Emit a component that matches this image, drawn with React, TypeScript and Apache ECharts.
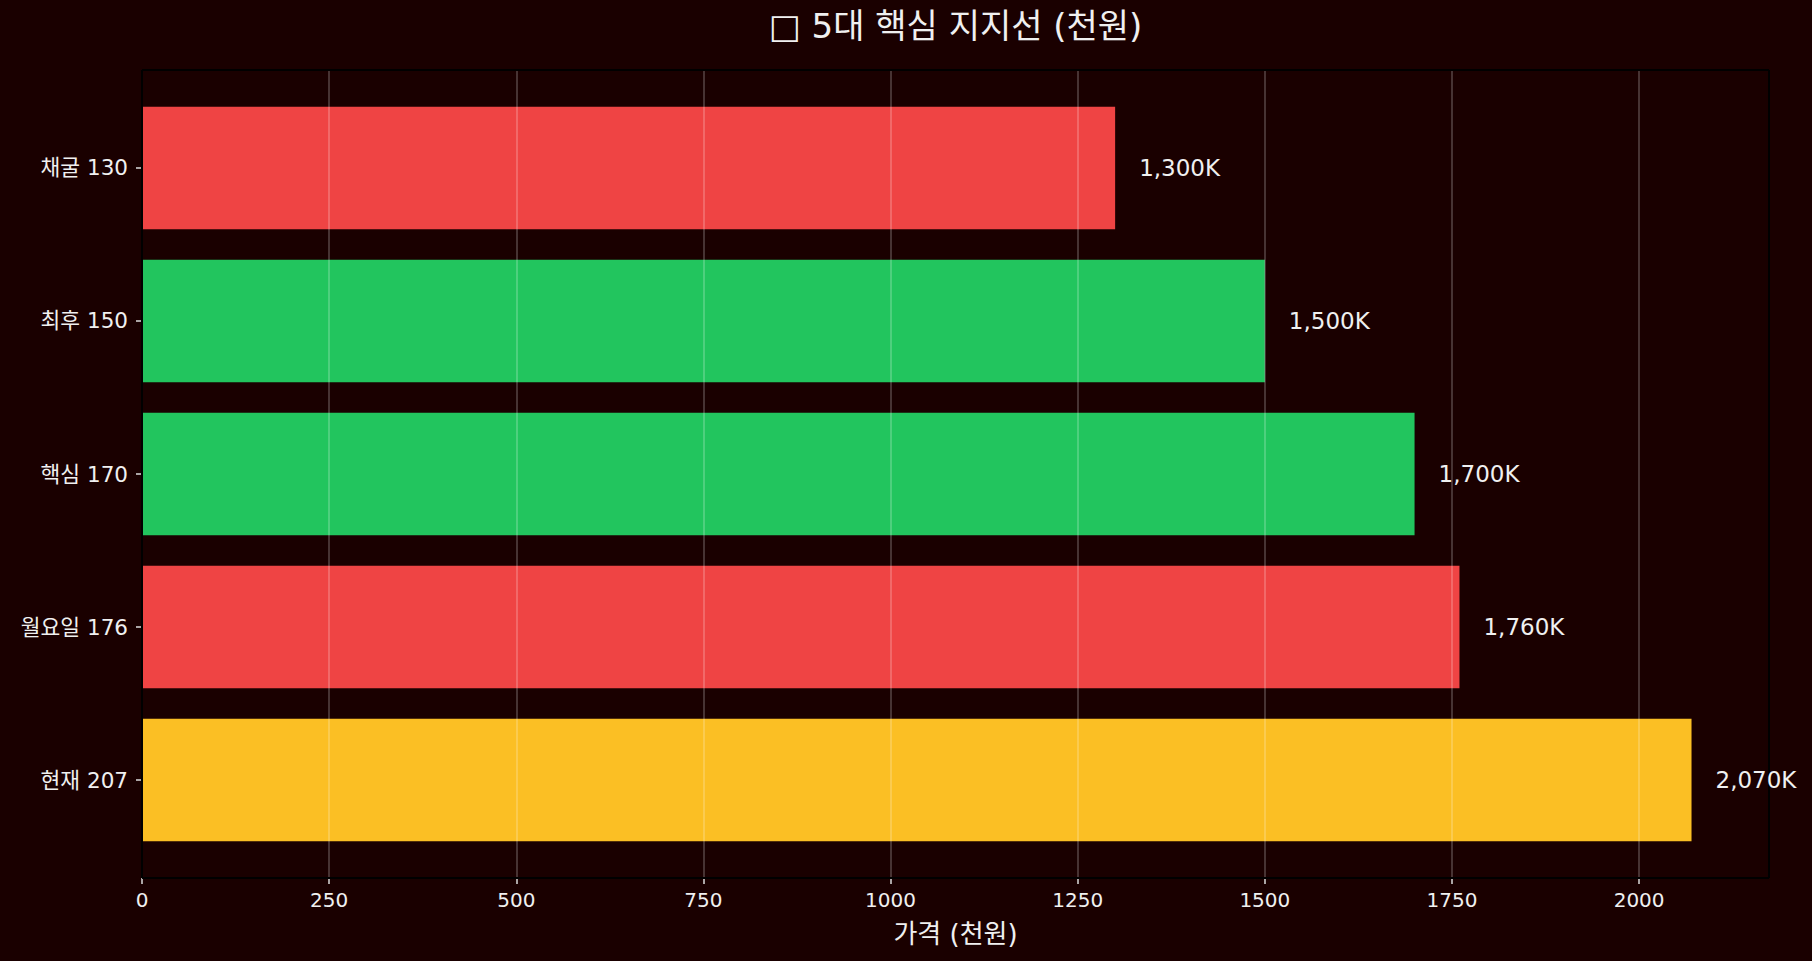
import React, { useEffect, useRef } from "react";
import * as echarts from "echarts";

const categories = ["현재 207", "월요일 176", "핵심 170", "최후 150", "채굴 130"];
const values = [2070, 1760, 1700, 1500, 1300];
const barColors = ["#fbbf24", "#ef4444", "#22c55e", "#22c55e", "#ef4444"];
const xTicks = [0, 250, 500, 750, 1000, 1250, 1500, 1750, 2000];
const xMax = 2173.5;
const titleText = "□ 5대 핵심 지지선 (천원)";
const xName = "가격 (천원)";

const FONT = "'DejaVu Sans', 'Noto Sans CJK KR', sans-serif";
const BG = "#1a0000";
const TXT = "#f0f0f0";

export default function App() {
  const ref = useRef<HTMLDivElement>(null);
  useEffect(() => {
    if (!ref.current) return;
    const chart = echarts.init(ref.current, undefined, { renderer: "svg" });
    const L = 142, R = 43, T = 70, B = 83;
    const W = 1812 - L - R;
    const plotH = 961 - T - B;
    const unitsH = 5.28; // -0.64..4.64
    const bandPx = plotH / unitsH;
    const innerTop = T + 0.14 * bandPx;
    const innerBottom = B + 0.14 * bandPx;
    const spine = { stroke: "#000000", lineWidth: 2 };
    chart.setOption({
      animation: false,
      backgroundColor: BG,
      textStyle: { fontFamily: FONT },
      graphic: [
        {
          type: "text",
          x: L + W / 2,
          y: 26,
          z: 100,
          style: {
            text: titleText,
            fill: TXT,
            font: `34px ${FONT}`,
            textAlign: "center",
            textVerticalAlign: "middle",
          },
        },
        { type: "line", z: 100, shape: { x1: L, y1: T, x2: L + W, y2: T }, style: spine },
        { type: "line", z: 100, shape: { x1: L, y1: T + plotH, x2: L + W, y2: T + plotH }, style: spine },
        { type: "line", z: 100, shape: { x1: L, y1: T, x2: L, y2: T + plotH }, style: spine },
        { type: "line", z: 0, shape: { x1: L + W, y1: T, x2: L + W, y2: T + plotH }, style: spine },
      ],
      grid: [
        { left: L, right: R, top: T, bottom: B, containLabel: false },
        { left: L, right: R, top: innerTop, bottom: innerBottom, containLabel: false },
      ],
      xAxis: [
        {
          type: "value",
          gridIndex: 0,
          min: 0,
          max: xMax,
          interval: 250,
          z: 5,
          name: xName,
          nameLocation: "middle",
          nameGap: 43,
          nameTextStyle: { color: TXT, fontSize: 26, fontFamily: FONT },
          axisLine: { show: false },
          axisTick: {
            show: true,
            customValues: xTicks,
            length: 6,
            lineStyle: { color: "#dddddd", width: 1.5 },
          },
          axisLabel: {
            customValues: xTicks,
            color: TXT,
            fontSize: 20,
            fontFamily: FONT,
            margin: 12,
            formatter: (v: number) => String(v),
          },
          splitLine: {
            show: true,
            lineStyle: { color: "rgba(255,255,255,0.25)", width: 1.6 },
          },
        },
        {
          type: "value",
          gridIndex: 1,
          min: 0,
          max: xMax,
          show: false,
        },
      ],
      yAxis: [
        { type: "value", gridIndex: 0, show: false },
        {
          type: "category",
          gridIndex: 1,
          data: categories,
          axisLine: { show: false },
          axisTick: {
            show: true,
            alignWithLabel: true,
            length: 6,
            lineStyle: { color: "#dddddd", width: 1.5 },
          },
          axisLabel: {
            color: TXT,
            fontSize: 21.5,
            fontFamily: FONT,
            margin: 14,
          },
          splitLine: { show: false },
        },
      ],
      series: [
        {
          type: "bar",
          xAxisIndex: 1,
          yAxisIndex: 1,
          barWidth: "80%",
          z: 2,
          data: values.map((v, i) => ({ value: v, itemStyle: { color: barColors[i] } })),
          label: {
            show: true,
            position: "right",
            distance: 24,
            color: TXT,
            fontSize: 23,
            fontFamily: FONT,
            formatter: (p: any) => `${Number(p.value).toLocaleString("en-US")}K`,
          },
        },
      ],
    });
    return () => chart.dispose();
  }, []);
  return (
    <div
      ref={ref}
      style={{ position: "fixed", left: 0, top: 0, width: 1812, height: 961 }}
    />
  );
}
